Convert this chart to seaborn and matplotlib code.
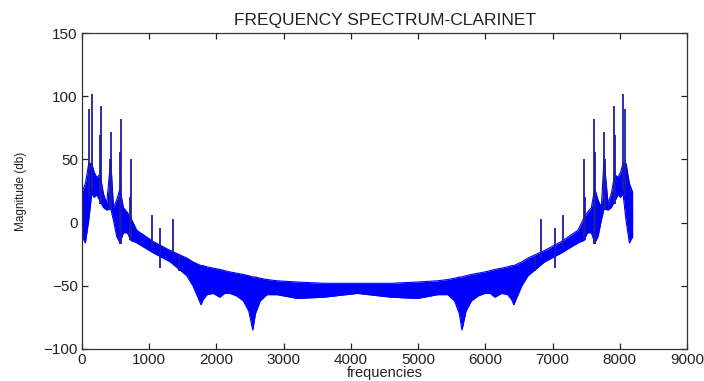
import pandas as pd
import matplotlib
matplotlib.use('Agg')
import matplotlib.pyplot as plt
import seaborn as sns


# envelope of the dense spectrum band
freqs = [0, 50, 100, 144, 180, 218, 268, 318, 367, 427, 467, 516, 565, 615, 675, 724, 814,
         1062, 1310, 1558, 1650, 1730, 1770, 1800, 1860, 1950, 2050, 2120, 2200, 2300,
         2400, 2480, 2540, 2580, 2650, 2750, 2900, 3200, 3600, 4096,
         4592, 4992, 5292, 5442, 5542, 5612, 5652, 5712, 5792, 5892, 5992, 6072, 6142,
         6242, 6332, 6392, 6422, 6462, 6542, 6634, 6882, 7130, 7378, 7468, 7517, 7577,
         7627, 7676, 7725, 7765, 7825, 7874, 7924, 7974, 8012, 8048, 8092, 8142, 8192]
upper_db = [24, 31, 47, 47, 40, 36, 38, 23, 15, 50, 12, 18, 27, 12, 8, 4, -6,
            -15, -22, -28, -31, -33, -34, -34, -35, -36, -37, -38, -39, -40,
            -41, -42, -43, -43, -44, -45, -46, -47, -48, -48,
            -48, -47, -46, -45, -44, -43, -43, -42, -41, -40, -39, -38, -37,
            -36, -35, -34, -34, -33, -31, -28, -22, -15, -6, 4, 8,
            12, 27, 18, 12, 50, 15, 23, 38, 36, 40, 47, 47, 31, 24]
lower_db = [-11, -16, 2, 23, 20, 22, 17, 12, 10, 11, 2, -11, -16, -8, -8, -14, -16,
            -24, -31, -42, -50, -60, -65, -61, -57, -56, -59, -56, -56, -58,
            -62, -70, -85, -72, -62, -57, -57, -60, -59, -56,
            -59, -60, -57, -57, -62, -72, -85, -70, -62, -58, -56, -56, -59,
            -56, -57, -61, -65, -60, -50, -42, -31, -24, -16, -14, -8, -8,
            -16, -11, 2, 11, 10, 12, 17, 22, 20, 23, 2, -16, -11]

# harmonic spikes
peak_freqs = [110, 144, 268, 283, 417, 431, 560, 575, 710, 724, 1037, 1161, 1359, 1448,
              6744, 6833, 7031, 7155, 7468, 7482, 7617, 7632, 7761, 7775, 7909, 7924, 8048, 8082]
peak_top_db = [90, 102, 69, 92, 50, 72, 56, 82, 20, 50, 6, -4.5, 3, -26,
               -26, 3, -4.5, 6, 50, 20, 82, 56, 72, 50, 92, 69, 102, 90]
peak_base_db = [20, 25, 15, 15, 10, 10, -17, -17, -14, -14, -20, -36, -28, -38,
                -38, -28, -36, -20, -14, -14, -17, -17, 10, 10, 15, 15, 25, 20]

sns.set_style('ticks')
plt.rcParams['font.family'] = ['Liberation Sans', 'DejaVu Sans']

fig = plt.figure(figsize=(7.04, 3.81), dpi=100)
ax = fig.add_axes([0.1165, 0.084, 0.8594, 0.829])

band = pd.DataFrame({'f': freqs, 'upper': upper_db, 'lower': lower_db})
ax.fill_between(band['f'], band['lower'], band['upper'], color='#0000ff', lw=0)
sns.lineplot(data=band, x='f', y='upper', color='#0000ff', lw=0.8, ax=ax)
sns.lineplot(data=band, x='f', y='lower', color='#0000ff', lw=0.8, ax=ax)
ax.vlines(peak_freqs, peak_base_db, peak_top_db, color='#1c1ca8', lw=1.3)

ax.set_xlim(0, 9000)
ax.set_ylim(-100, 150)
ax.set_xticks(range(0, 9001, 1000))
ax.set_yticks(range(-100, 151, 50))
ax.tick_params(direction='in', bottom=True, left=True, top=True, right=True,
               length=4, width=0.9, labelsize=11, colors='#222222', pad=3)
for s in ax.spines.values():
    s.set_visible(True)
    s.set_color('#333333')
    s.set_linewidth(0.9)

ax.set_title('FREQUENCY SPECTRUM-CLARINET', fontsize=12.5, pad=6, color='#222222')
ax.set_xlabel('frequencies', fontsize=10.5, labelpad=-1, color='#222222')
ax.set_ylabel('Magnitude (db)', fontsize=8.5, labelpad=12, color='#222222')

plt.savefig('out.png', dpi=100)
